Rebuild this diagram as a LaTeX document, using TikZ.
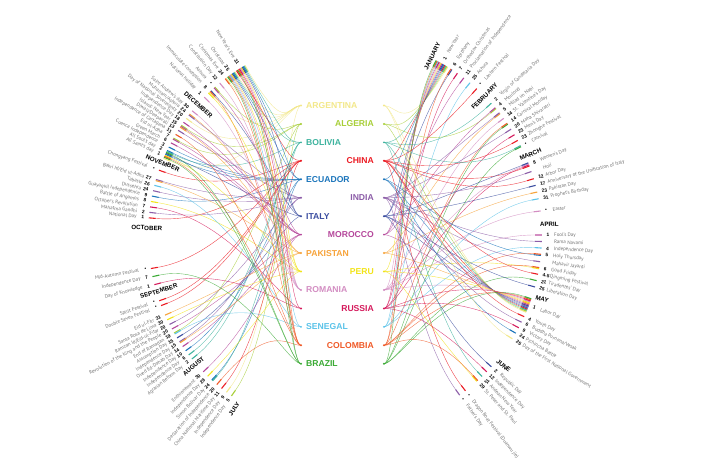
\documentclass[tikz,border=0pt]{standalone}
\usepackage{fontspec}
\setmainfont{PT Sans}
\newfontfamily\headfont{Liberation Sans}
\usetikzlibrary{calc}

\definecolor{cARG}{HTML}{F3E88A}
\definecolor{cALG}{HTML}{A8CF38}
\definecolor{cBOL}{HTML}{3DB39E}
\definecolor{cCHN}{HTML}{EC1C24}
\definecolor{cECU}{HTML}{1B75BB}
\definecolor{cIND}{HTML}{8C5DA8}
\definecolor{cITA}{HTML}{3B4DA0}
\definecolor{cMOR}{HTML}{B5479B}
\definecolor{cPAK}{HTML}{F7A33A}
\definecolor{cPER}{HTML}{F2E41A}
\definecolor{cROM}{HTML}{D38DC2}
\definecolor{cRUS}{HTML}{D51A5C}
\definecolor{cSEN}{HTML}{5BC3E9}
\definecolor{cCOL}{HTML}{F05A28}
\definecolor{cBRA}{HTML}{3BAA35}

\newcounter{hid}
\newcommand\hday[4]{%
  \stepcounter{hid}%
  \pgfmathtruncatemacro\hleft{(#1>90)?1:0}%
  \ifnum\hleft=1
    \node[hname, anchor=east, rotate=#1-180] (name\arabic{hid}) at ($(C)+(#1:209)$) {#3};
    \node[hnum, anchor=east, rotate=#1-180] (num\arabic{hid}) at ($(C)+(#1:201.5)$) {#2};
    \def\hside{L}\def\hpull{-14}%
  \else
    \node[hname, anchor=west, rotate=#1] (name\arabic{hid}) at ($(C)+(#1:209)$) {#3};
    \node[hnum, anchor=west, rotate=#1] (num\arabic{hid}) at ($(C)+(#1:201.5)$) {#2};
    \def\hside{R}\def\hpull{14}%
  \fi
  \foreach \c [count=\n] in {#4} {\xdef\hn{\n}}%
  \foreach \c [count=\k from 0] in {#4} {%
    \pgfmathsetmacro\ak{#1+(\k-(\hn-1)/2)*0.32}%
    \coordinate (tin) at ($(C)+(\ak:190)$);
    \coordinate (tout) at ($(C)+(\ak:197)$);
    \coordinate (tpull) at ($(C)+(\ak:115)$);
    \draw[link, c\c] (\c-\hside) .. controls +(\hpull,0) and (tpull) .. (tin);
    \draw[htick, c\c] (tin) -- (tout);
  }%
}
\newcommand\hmonth[2]{%
  \stepcounter{hid}%
  \pgfmathtruncatemacro\hleft{(#1>90)?1:0}%
  \ifnum\hleft=1
    \node[month, anchor=west, rotate=#1-180] (month\arabic{hid}) at ($(C)+(#1:214)$) {#2};
  \else
    \node[month, anchor=east, rotate=#1] (month\arabic{hid}) at ($(C)+(#1:214)$) {#2};
  \fi
}

\begin{document}
\begin{tikzpicture}[x=1pt, y=1pt,
  country/.style={font=\headfont\bfseries\fontsize{8.6}{8.6}\selectfont, inner sep=0pt},
  hname/.style={font=\fontsize{5}{5}\selectfont, text=black!55, inner sep=0pt},
  hnum/.style={font=\headfont\bfseries\fontsize{4.8}{4.8}\selectfont, inner sep=0pt},
  month/.style={font=\headfont\bfseries\fontsize{6.2}{6.2}\selectfont, inner sep=0pt},
  link/.style={line width=0.4pt, opacity=0.8},
  htick/.style={line width=1.1pt}]
\useasboundingbox (0,0) rectangle (705,470);
\fill[white] (0,0) rectangle (705,470);
\coordinate (C) at (345,235);

\foreach \c/\i in {ARG/0, ALG/1, BOL/2, CHN/3, ECU/4, IND/5, ITA/6, MOR/7, PAK/8, PER/9, ROM/10, RUS/11, SEN/12, COL/13, BRA/14} {
  \pgfmathsetmacro\cy{470-105.5-18.45*\i}
  \coordinate (\c-L) at (301,\cy);
  \coordinate (\c-R) at (384,\cy);
}

% January - June
\hmonth{64}{JANUARY}
\hday{60.5}{1}{New Year}{ARG,ALG,BOL,CHN,ECU,ITA,MOR,PER,ROM,RUS,SEN,COL,BRA}
\hday{57.3}{6}{Epiphany}{ITA,COL}
\hday{55.2}{7}{Orthodox Christmas}{RUS}
\hday{52.9}{11}{Proclamation of Independence}{MOR}
\hday{50.6}{25}{Ashura}{SEN}
\hday{48.0}{\textbullet}{Lantern Festival}{CHN}
\hmonth{44.8}{FEBRUARY}
\hday{42.0}{2}{Virgin of Candelaria Day}{BOL}
\hday{40.1}{4}{Mouloud}{ALG,MOR}
\hday{38.2}{5}{Milad un Nabi}{PAK,IND}
\hday{36.3}{14}{St. Valentine's Day}{ROM}
\hday{34.4}{14}{Carnival Monday}{BRA,COL}
\hday{32.5}{20}{Maha Shivaratri}{IND}
\hday{30.6}{23}{Men's Day}{RUS}
\hday{28.7}{23}{Zhonghe Festival}{CHN}
\hday{26.8}{\textbullet}{Carnival}{BRA,BOL}
\hmonth{23.5}{MARCH}
\hday{21.0}{8}{Women's Day}{CHN,RUS,ROM,ITA}
\hday{18.8}{}{Holi}{IND}
\hday{16.6}{12}{Arbor Day}{CHN}
\hday{14.6}{17}{Anniversary of the Unification of Italy}{ITA}
\hday{12.6}{23}{Pakistan Day}{PAK}
\hday{10.6}{31}{Prophet's Birthday}{SEN}
\hday{7.0}{\textbullet}{Easter}{ROM}
\hmonth{3.0}{APRIL}
\hday{0.0}{1}{Fool's Day}{ROM}
\hday{-1.9}{}{Rama Navami}{IND}
\hday{-3.8}{4}{Independence Day}{SEN}
\hday{-5.8}{5}{Holy Thursday}{ECU,COL}
\hday{-7.8}{}{Mahavir Jayanti}{IND}
\hday{-9.7}{6}{Good Friday}{PER,COL}
\hday{-11.5}{4-5}{Qingming Festival}{CHN}
\hday{-13.4}{21}{Tiradentes' Day}{BRA}
\hday{-15.3}{25}{Liberation Day}{ITA}
\hmonth{-18.0}{MAY}
\hday{-21.0}{1}{Labor Day}{ARG,ALG,BOL,CHN,ECU,IND,ITA,MOR,PAK,PER,ROM,RUS,COL,BRA}
\hday{-24.5}{4}{Youth Day}{CHN}
\hday{-26.3}{6}{Buddha Purnima/Vesak}{IND}
\hday{-28.1}{9}{Victory Day}{RUS}
\hday{-29.9}{24}{Pichincha Battle}{ECU}
\hday{-31.8}{25}{Day of the First National Government}{ARG}
\hmonth{-39.5}{JUNE}
\hday{-42.0}{2}{Republic Day}{ITA}
\hday{-44.0}{12}{Independence Day}{RUS}
\hday{-45.9}{21}{Andean New Year}{BOL}
\hday{-47.8}{29}{St. Peter and St. Paul}{PER,COL}
\hday{-52.3}{\textbullet}{Dragon Boat Festival (Duanwu jie)}{CHN}
\hday{-54.4}{\textbullet}{Father's Day}{IND}

% July - December
\hmonth{237.5}{JULY}
\hday{234.8}{5}{Independence Day}{ALG}
\hday{233.0}{9}{Independence Day}{ARG}
\hday{231.2}{11}{China National Maritime Day}{CHN}
\hday{229.4}{20}{Declaration of Independence}{COL}
\hday{227.6}{24}{Simon Bolivar Day}{ECU,BOL}
\hday{225.8}{28}{Independence Day}{PER}
\hday{224.0}{30}{Enthronement}{MOR}
\hmonth{221.0}{AUGUST}
\hday{219.0}{2}{Agrarian Reform Day}{BOL}
\hday{217.5}{6}{Independence Day}{BOL}
\hday{216.0}{10}{Independence Day}{ECU}
\hday{214.5}{14}{Oued Ed-Dahab Day}{MOR}
\hday{213.0}{15}{Independence Day}{IND,PAK}
\hday{211.5}{15}{Assumption Day}{ITA}
\hday{210.0}{19}{End of Ramadan}{ALG,SEN}
\hday{208.5}{20}{Revolution of the King and the People}{MOR}
\hday{207.0}{20}{Ramzan Id/Eid-ul-Fitar}{IND}
\hday{205.5}{30}{Santa Rosa de Lima}{PER}
\hday{204.0}{31}{Eid ul-Fitr}{PAK}
\hday{201.0}{\textbullet}{Double Seven Festival}{CHN}
\hday{199.5}{\textbullet}{Spirit Festival}{CHN}
\hmonth{196.8}{SEPTEMBER}
\hday{194.6}{1}{Day of Knowledge}{RUS}
\hday{192.2}{7}{Independence Day}{BRA}
\hday{189.8}{\textbullet}{Mid-Autumn Festival}{CHN}
\hmonth{178.0}{OCTOBER}
\hday{175.0}{1}{National Day}{CHN}
\hday{173.4}{2}{Mahatma Gandhi}{IND}
\hday{171.8}{7}{October's Revolution}{RUS}
\hday{170.2}{8}{Battle of Angamos}{PER}
\hday{168.6}{9}{Guayaquil Independence}{ECU}
\hday{167.0}{24}{Dussehra}{IND}
\hday{165.4}{26}{Tabaski}{SEN}
\hday{163.8}{27}{Bakri Id/Eid ul-Adha}{IND,PAK}
\hday{160.8}{\textbullet}{Chongyang Festival}{CHN}
\hmonth{158.5}{NOVEMBER}
\hday{156.3}{1}{All Saint's day}{ITA,ECU,PER,COL,BRA,ARG}
\hday{154.9}{2}{All Soul's day}{ECU,BOL,BRA}
\hday{153.5}{3}{Cuenca Independence}{ECU}
\hday{152.1}{6}{Green March}{MOR}
\hday{150.7}{7}{Eid ul-Adha}{ALG,MOR}
\hday{149.3}{11}{Independence of Cartagena}{COL}
\hday{147.9}{13}{Diwali/Deepavali}{IND}
\hday{146.5}{15}{Islamic New Year}{ALG,MOR,PAK}
\hday{145.1}{18}{Independence Day}{MOR}
\hday{143.7}{20}{Day of National Sovereignty}{ARG}
\hday{142.3}{24}{Muharram/Ashura}{PAK,IND}
\hday{140.9}{30}{Saint Andrew's day}{ROM}
\hmonth{138.4}{DECEMBER}
\hday{135.6}{1}{National holiday}{ROM}
\hday{133.4}{8}{Immaculate conception}{ITA,COL,ARG,PER}
\hday{131.5}{\textbullet}{Ashura}{ALG,MOR}
\hday{129.5}{12}{Constitution Day}{ROM}
\hday{127.3}{24}{Christmas Eve}{ARG,COL}
\hday{125.3}{25}{Christmas}{ARG,BOL,ECU,ITA,PER,ROM,SEN,COL,BRA}
\hday{122.0}{31}{New Year's Eve}{ARG,BOL,ECU,ITA,PER,ROM,RUS,COL,BRA,CHN}

% countries
\foreach \c/\t/\i in {ARG/ARGENTINA/0, ALG/ALGERIA/1, BOL/BOLIVIA/2, CHN/CHINA/3, ECU/ECUADOR/4, IND/INDIA/5, ITA/ITALY/6, MOR/MOROCCO/7, PAK/PAKISTAN/8, PER/PERU/9, ROM/ROMANIA/10, RUS/RUSSIA/11, SEN/SENEGAL/12, COL/COLOMBIA/13, BRA/BRAZIL/14} {
  \pgfmathtruncatemacro\odd{mod(\i,2)}
  \ifnum\odd=1
    \node[country, text=c\c, anchor=east] (\c) at ($(\c-L)+(73,0)$) {\t};
  \else
    \node[country, text=c\c, anchor=west] (\c) at ($(\c-L)+(5,0)$) {\t};
  \fi
  \fill[c\c] (\c-L) circle (1.1);
  \fill[c\c] (\c-R) circle (1.1);
}
\end{tikzpicture}
\end{document}
